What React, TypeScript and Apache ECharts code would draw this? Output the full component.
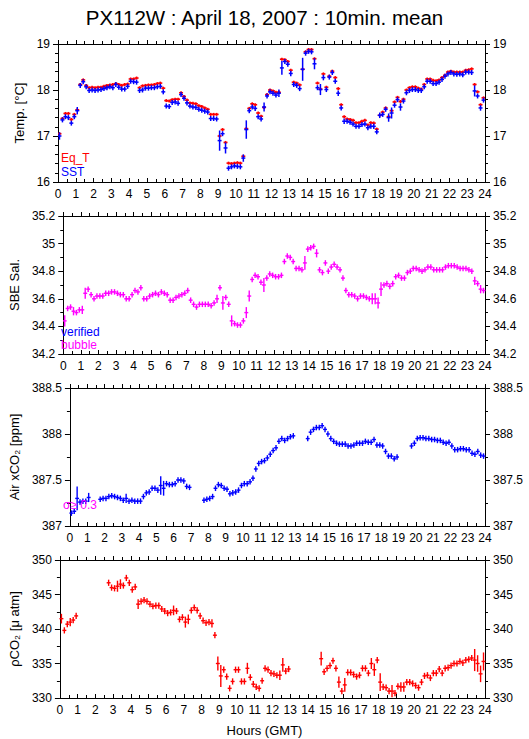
import React, { useEffect, useRef } from "react";
import * as echarts from "echarts";

// 10-minute mean time stamps (hours GMT)
const HOURS: number[] = Array.from({ length: 144 }, (_, i) => (i + 0.5) / 6);

const SST: (number | null)[] = [
  17.00, 17.35, 17.42, 17.40, 17.28, 17.42, 17.55, 18.10, 18.18, 18.07, 17.99, 18.00,
  17.99, 18.00, 18.01, 18.03, 18.05, 18.07, 18.05, 18.12, 18.06, 18.02, 18.02, 18.08,
  18.19, 18.18, 18.17, 17.99, 18.00, 18.04, 18.04, 18.05, 18.05, 18.07, 18.08, 17.96,
  17.65, 17.64, 17.73, 17.74, 17.71, 17.90, 17.82, 17.72, 17.65, 17.63, 17.62, 17.58,
  17.56, 17.54, 17.52, 17.38, 17.38, 17.37, 16.90, 17.05, 16.74, 16.30, 16.33, 16.35,
  16.34, 16.33, 16.52, 17.14, 17.55, 17.63, 17.60, 17.42, 17.37, 17.63, 17.87, 17.96,
  17.93, 17.89, 17.93, 18.48, 18.62, 18.56, 18.36, 18.12, 18.10, 18.03, 18.45, 18.80,
  18.84, 18.83, 18.57, 18.05, 18.01, 18.27, 18.01, 18.28, 18.38, 18.19, 17.93, 17.61,
  17.32, 17.32, 17.30, 17.26, 17.21, 17.21, 17.25, 17.26, 17.18, 17.21, 17.21, 17.09,
  17.45, 17.47, 17.58, 17.40, 17.50, 17.67, 17.79, 17.63, 17.76, 17.94, 17.99, 18.01,
  18.01, 17.99, 17.99, 18.07, 18.19, 18.19, 18.14, 18.14, 18.17, 18.23, 18.30, 18.35,
  18.38, 18.35, 18.34, 18.35, 18.33, 18.39, 18.39, 18.38, 17.98, 17.87, 17.61, 17.78,
];
const SST_ERR_DEFAULT = 0.03;
const SST_ERR: Record<number, number> = {
  0: 0.08, 6: 0.08, 54: 0.22, 56: 0.12, 57: 0.05, 62: 0.08, 63: 0.2, 69: 0.1, 74: 0.08,
  75: 0.15, 78: 0.06, 82: 0.25, 86: 0.12, 88: 0.12, 89: 0.06, 94: 0.06, 96: 0.06,
  106: 0.06, 108: 0.06, 111: 0.09, 112: 0.12, 115: 0.08, 140: 0.12, 142: 0.06,
};

const EQ_T: (number | null)[] = [
  17.05, 17.38, 17.49, 17.49, 17.36, 17.47, 17.57, 18.12, 18.22, 18.10, 18.05, 18.06,
  18.05, 18.06, 18.06, 18.08, 18.10, 18.11, 18.12, 18.14, 18.12, 18.10, 18.12, 18.13,
  18.24, 18.24, 18.26, 18.05, 18.09, 18.10, 18.11, 18.11, 18.12, 18.14, 18.15, 18.04,
  17.77, 17.76, 17.79, 17.80, 17.80, 17.94, 17.86, 17.78, 17.72, 17.71, 17.70, 17.66,
  17.64, 17.61, 17.58, 17.47, 17.47, 17.47, 17.00, 17.14, 16.86, 16.41, 16.40, 16.41,
  16.42, 16.41, 16.56, 17.16, 17.60, 17.70, 17.68, 17.50, 17.43, 17.62, 17.90, 18.00,
  17.98, 17.95, 17.95, 18.67, 18.66, 18.62, 18.43, 18.17, 18.15, 18.11, 18.45, 18.83,
  18.88, 18.88, 18.68, 18.15, 18.02, 18.35, 18.06, 18.30, 18.41, 18.27, 18.03, 17.68,
  17.42, 17.37, 17.36, 17.34, 17.29, 17.29, 17.32, 17.34, 17.24, 17.29, 17.28, 17.15,
  17.45, 17.52, 17.61, 17.42, 17.55, 17.74, 17.84, 17.75, 17.80, 18.00, 18.05, 18.07,
  18.07, 18.04, 18.02, 18.12, 18.24, 18.24, 18.21, 18.20, 18.22, 18.27, 18.32, 18.39,
  18.41, 18.39, 18.39, 18.39, 18.39, 18.43, 18.44, 18.46, 18.12, 17.96, 17.68, 17.83,
];
const EQ_T_ERR_DEFAULT = 0.01;
const EQ_T_ERR: Record<number, number> = {};

const SAL: (number | null)[] = [
  34.44, 34.53, 34.54, 34.51, 34.50, 34.52, 34.52, 34.64, 34.67, 34.63, 34.60, 34.62,
  34.62, 34.62, 34.64, 34.64, 34.65, 34.65, 34.64, 34.63, 34.63, 34.60, 34.60, 34.63,
  34.66, 34.65, 34.68, 34.60, 34.60, 34.62, 34.63, 34.64, 34.63, 34.65, 34.64, 34.63,
  34.59, 34.59, 34.61, 34.62, 34.63, 34.64, 34.66, 34.59, 34.56, 34.54, 34.56, 34.56,
  34.56, 34.56, 34.55, 34.57, 34.60, 34.68, 34.57, 34.61, 34.56, 34.44, 34.42, 34.41,
  34.41, 34.44, 34.50, 34.62, 34.74, 34.77, 34.76, 34.72, 34.70, 34.75, 34.78, 34.77,
  34.76, 34.76, 34.77, 34.87, 34.91, 34.90, 34.87, 34.82, 34.82, 34.81, 34.86, 34.96,
  34.97, 34.98, 34.93, 34.81, 34.79, 34.86, 34.80, 34.83, 34.85, 34.83, 34.81, 34.75,
  34.66, 34.63, 34.63, 34.62, 34.60, 34.62, 34.62, 34.61, 34.60, 34.60, 34.60, 34.57,
  34.67, 34.70, 34.71, 34.69, 34.71, 34.76, 34.77, 34.75, 34.75, 34.79, 34.80, 34.82,
  34.82, 34.81, 34.80, 34.81, 34.83, 34.83, 34.81, 34.81, 34.81, 34.81, 34.83, 34.84,
  34.84, 34.84, 34.83, 34.82, 34.82, 34.82, 34.81, 34.80, 34.73, 34.71, 34.67, 34.66,
];
const SAL_ERR_DEFAULT = 0.02;
const SAL_ERR: Record<number, number> = {
  0: 0.04, 3: 0.03, 6: 0.03, 7: 0.04, 52: 0.03, 54: 0.05, 57: 0.04, 62: 0.04, 63: 0.04,
  68: 0.05, 82: 0.05, 86: 0.03, 105: 0.04, 106: 0.04, 107: 0.04, 108: 0.05, 140: 0.03, 142: 0.03,
};

const XCO2_AIR: (number | null)[] = [
  387.14, 387.16, 387.30, 387.26, 387.27, 387.27, 387.31, null, null, null, 387.29, 387.30,
  387.30, 387.32, 387.33, 387.32, 387.31, 387.30, 387.28, 387.30, 387.27, 387.28, 387.27, 387.27,
  387.27, 387.32, 387.36, 387.37, 387.41, 387.41, 387.39, 387.44, 387.41, 387.46, 387.45, 387.45,
  387.46, 387.50, 387.50, 387.49, 387.43, 387.42, null, null, null, null, 387.28, 387.29,
  387.30, 387.32, 387.41, 387.45, 387.44, 387.41, 387.40, 387.35, 387.36, 387.37, 387.39, 387.44,
  387.46, 387.46, 387.48, 387.52, 387.62, 387.68, 387.70, 387.71, 387.74, 387.78, 387.82, 387.85,
  387.92, 387.95, 387.93, 387.95, 387.97, 387.98, null, null, null, null, 387.95, 388.02,
  388.05, 388.07, 388.07, 388.09, 388.05, 388.00, 387.95, 387.92, 387.90, 387.89, 387.89, 387.89,
  387.87, 387.87, 387.88, 387.90, 387.90, 387.90, 387.92, 387.91, 387.91, 387.94, 387.88, 387.88,
  387.87, 387.81, 387.76, 387.76, 387.73, 387.75, null, null, null, null, 387.87, 387.90,
  387.95, 387.96, 387.96, 387.95, 387.95, 387.94, 387.94, 387.93, 387.93, 387.91, 387.90, 387.91,
  387.87, 387.83, 387.83, 387.84, 387.84, 387.83, 387.83, 387.79, 387.78, 387.81, 387.77, 387.76,
];
const XCO2_ERR_DEFAULT = 0.03;
const XCO2_ERR: Record<number, number> = { 2: 0.13, 6: 0.05, 19: 0.05, 31: 0.1, 32: 0.08 };

const PCO2: (number | null)[] = [
  341.5, 339.8, 340.7, 341.0, 341.3, 341.9, null, null, null, null, null, null,
  null, null, null, null, 346.7, 346.0, 345.9, 346.2, 346.5, 346.3, 347.4, 346.7,
  345.7, 346.1, 343.6, 344.0, 344.2, 344.0, 343.6, 343.3, 343.4, 343.4, 342.9, 342.6,
  342.3, 342.4, 342.7, 342.6, 341.4, 341.7, 341.0, 341.4, 342.7, 343.1, 342.7, 341.9,
  341.2, 340.9, 341.0, 340.8, 339.1, 335.0, 333.2, 334.1, 333.1, 331.4, 332.4, 334.1,
  334.1, 332.4, 332.4, 334.3, 333.0, 332.0, 331.6, 331.4, 332.5, 334.3, 334.1, 333.6,
  333.5, 333.3, 333.3, 334.8, 333.9, 334.2, null, null, null, null, null, null,
  null, null, null, null, 335.7, 333.8, 334.3, 334.7, 335.4, 334.3, 332.3, 331.0,
  331.9, 333.7, 333.7, 333.4, 333.1, 333.3, 334.3, 334.3, 333.6, 335.0, 334.1, 335.5,
  332.3, 331.6, 331.5, 331.0, 331.0, 330.7, 331.7, 331.6, 331.6, 332.3, 332.3, 332.1,
  331.8, 331.5, 332.3, 333.2, 333.3, 332.9, 333.6, 333.6, 334.2, 333.6, 334.3, 334.4,
  334.7, 335.0, 335.0, 335.3, 335.1, 335.5, 335.6, 335.8, 335.5, 335.0, 333.5, 335.3,
];
const PCO2_ERR_DEFAULT = 0.45;
const PCO2_ERR: Record<number, number> = {
  0: 0.7, 3: 0.6, 19: 0.8, 20: 0.7, 26: 0.7, 38: 0.7, 42: 0.8, 43: 0.7, 51: 0.6, 53: 1.0,
  54: 1.6, 63: 0.8, 74: 0.7, 75: 1.0, 88: 1.0, 94: 0.8, 96: 1.0, 105: 0.8, 106: 0.9,
  108: 1.3, 112: 0.9, 115: 0.7, 116: 0.7, 140: 1.6, 141: 1.2, 142: 1.2, 143: 1.3,
};

const TITLE = "PX112W : April 18, 2007 : 10min. mean";
const X_NAME = "Hours (GMT)";

const FONT = "'Liberation Sans', Arial, Helvetica, sans-serif";
const RED = "#ff0000";
const BLUE = "#0000ff";
const MAGENTA = "#ff00ff";

const GRID_LEFT = 58;
const GRID_WIDTH = 427;
const GRID_HEIGHT = 138;
const GRID_TOPS = [44, 216, 388, 560];

type PanelSpec = { min: number; max: number; interval: number; minorSplit: number; name: string };
const PANELS: PanelSpec[] = [
  { min: 16, max: 19, interval: 1, minorSplit: 5, name: "Temp. [°C]" },
  { min: 34.2, max: 35.2, interval: 0.2, minorSplit: 2, name: "SBE Sal." },
  { min: 387, max: 388.5, interval: 0.5, minorSplit: 2, name: "Air xCO₂ [ppm]" },
  { min: 330, max: 350, interval: 5, minorSplit: 2, name: "ρCO₂ [μ atm]" },
];

function buildData(vals: (number | null)[], errMap: Record<number, number>, errDefault: number) {
  const out: number[][] = [];
  vals.forEach((v, i) => {
    if (v === null || v === undefined) return;
    const e = errMap[i] !== undefined ? errMap[i] : errDefault;
    out.push([HOURS[i], v, e]);
  });
  return out;
}

function crossSeries(panel: number, data: number[][], color: string, minHalf: number, lw: number, z: number) {
  return {
    type: "custom",
    xAxisIndex: panel * 2,
    yAxisIndex: panel * 2,
    clip: true,
    z,
    data,
    encode: { x: 0, y: 1 },
    renderItem: (_params: any, api: any) => {
      const x = api.value(0) as number;
      const y = api.value(1) as number;
      const e = api.value(2) as number;
      const c = api.coord([x, y]);
      const l = api.coord([x - 1 / 12, y]);
      const r = api.coord([x + 1 / 12, y]);
      const t = api.coord([x, y + e]);
      const b = api.coord([x, y - e]);
      const y1 = Math.min(t[1], c[1] - minHalf);
      const y2 = Math.max(b[1], c[1] + minHalf);
      return {
        type: "group",
        children: [
          { type: "line", shape: { x1: l[0] - 0.5, y1: c[1], x2: r[0] + 0.5, y2: c[1] }, style: { stroke: color, lineWidth: lw } },
          { type: "line", shape: { x1: c[0], y1, x2: c[0], y2 }, style: { stroke: color, lineWidth: lw } },
        ],
      };
    },
  };
}

export default function App() {
  const ref = useRef<HTMLDivElement>(null);

  useEffect(() => {
    if (!ref.current) return;
    const chart = echarts.init(ref.current, undefined, { renderer: "svg" });

    const grids = GRID_TOPS.map((top) => ({ left: GRID_LEFT, top, width: GRID_WIDTH, height: GRID_HEIGHT }));
    const axisLineStyle = { color: "#000", width: 1 };
    const xAxes: any[] = [];
    const yAxes: any[] = [];
    PANELS.forEach((p, idx) => {
      xAxes.push({
        type: "value", gridIndex: idx, position: "bottom", min: 0, max: 24, interval: 1,
        axisLine: { show: true, onZero: false, lineStyle: axisLineStyle },
        axisTick: { show: true, inside: true, length: 4, lineStyle: axisLineStyle },
        minorTick: { show: true, splitNumber: 2, length: 3, lineStyle: axisLineStyle },
        axisLabel: { show: true, color: "#000", fontSize: 12, fontFamily: FONT, margin: 6 },
        splitLine: { show: false },
      });
      xAxes.push({
        type: "value", gridIndex: idx, position: "top", min: 0, max: 24, interval: 1,
        axisLine: { show: true, onZero: false, lineStyle: axisLineStyle },
        axisTick: { show: true, inside: false, length: 4, lineStyle: axisLineStyle },
        minorTick: { show: true, splitNumber: 2, length: 3, lineStyle: axisLineStyle },
        axisLabel: { show: false },
        splitLine: { show: false },
      });
      yAxes.push({
        type: "value", gridIndex: idx, position: "left", min: p.min, max: p.max, interval: p.interval,
        name: p.name, nameLocation: "middle", nameGap: 32,
        nameTextStyle: { color: "#000", fontSize: 13, fontFamily: FONT },
        axisLine: { show: true, onZero: false, lineStyle: axisLineStyle },
        axisTick: { show: true, inside: false, length: 5, lineStyle: axisLineStyle },
        minorTick: { show: true, splitNumber: p.minorSplit, length: 3, lineStyle: axisLineStyle },
        axisLabel: { show: true, color: "#000", fontSize: 12, fontFamily: FONT, margin: 8 },
        splitLine: { show: false },
      });
      yAxes.push({
        type: "value", gridIndex: idx, position: "right", min: p.min, max: p.max, interval: p.interval,
        axisLine: { show: true, onZero: false, lineStyle: axisLineStyle },
        axisTick: { show: true, inside: false, length: 5, lineStyle: axisLineStyle },
        minorTick: { show: true, splitNumber: p.minorSplit, length: 3, lineStyle: axisLineStyle },
        axisLabel: { show: true, color: "#000", fontSize: 12, fontFamily: FONT, margin: 8 },
        splitLine: { show: false },
      });
    });

    const series: any[] = [
      crossSeries(0, buildData(EQ_T, EQ_T_ERR, EQ_T_ERR_DEFAULT), RED, 1.5, 1.6, 2),
      crossSeries(0, buildData(SST, SST_ERR, SST_ERR_DEFAULT), BLUE, 2.5, 1.5, 3),
      crossSeries(1, buildData(SAL, SAL_ERR, SAL_ERR_DEFAULT), MAGENTA, 2.5, 1.4, 3),
      crossSeries(2, buildData(XCO2_AIR, XCO2_ERR, XCO2_ERR_DEFAULT), BLUE, 2.5, 1.4, 3),
      crossSeries(3, buildData(PCO2, PCO2_ERR, PCO2_ERR_DEFAULT), RED, 2.5, 1.4, 3),
    ];

    const legendText = (text: string, x: number, y: number, color: string) => ({
      type: "text", left: x, top: y, z: 10,
      style: { text, fill: color, fontSize: 12, fontFamily: FONT },
    });

    chart.setOption({
      animation: false,
      backgroundColor: "#fff",
      title: {
        text: TITLE, left: "center", top: 2,
        textStyle: { fontSize: 20.5, fontWeight: "normal", color: "#000", fontFamily: FONT },
      },
      grid: grids,
      xAxis: xAxes,
      yAxis: yAxes,
      series,
      graphic: [
        legendText("Eq_T", 61, 152, RED),
        legendText("SST", 61, 166, BLUE),
        legendText("verified", 61, 326, BLUE),
        legendText("bubble", 61, 339, MAGENTA),
        legendText("σ≥ 0.3", 63, 499, MAGENTA),
        {
          type: "text", left: "center", top: 724,
          style: { text: X_NAME, fill: "#000", fontSize: 13, fontFamily: FONT },
        },
      ],
    });

    return () => chart.dispose();
  }, []);

  return <div ref={ref} style={{ position: "absolute", left: 0, top: 0, width: 529, height: 739 }} />;
}
